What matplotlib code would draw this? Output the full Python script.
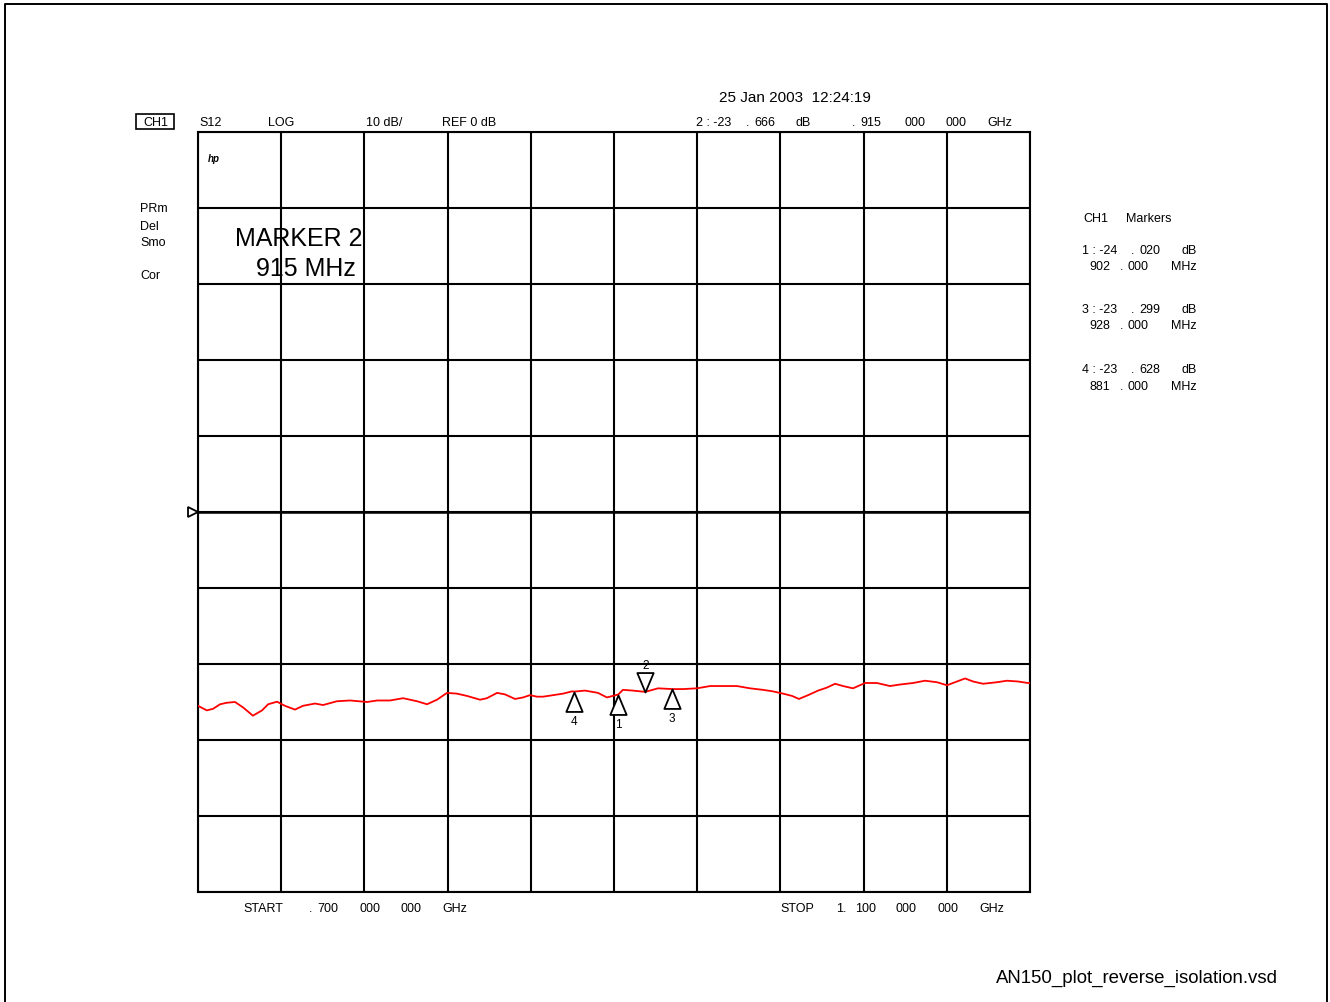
import matplotlib
matplotlib.use("Agg")
import matplotlib.pyplot as plt
from matplotlib.lines import Line2D
from matplotlib.patches import Rectangle
from matplotlib.path import Path
import numpy as np

plt.rcParams["font.family"] = ["Liberation Sans", "DejaVu Sans"]

# S12 sweep, 700 MHz .. 1.1 GHz, LOG 10 dB/div, REF 0 dB
freq_mhz = [700, 704.2, 707.2, 710.6, 713.8, 717.8, 721.6, 726.4, 730.8, 733.7,
            738, 741.8, 746.6, 750.5, 756.3, 760.1, 766.8, 773.1, 781.3, 786.1,
            792.3, 798.6, 805.3, 810.1, 814.9, 819.7, 824.5, 829.3, 835.6, 838.9,
            843.8, 847.6, 852.4, 856.3, 859.6, 863, 865.9, 870.7, 875.5, 879.8,
            881, 886.1, 892.3, 896.6, 902, 904.3, 909.1, 915, 921.2, 928,
            933.2, 939.9, 946.2, 952.4, 959.1, 965.4, 971.6, 976.4, 981.3, 985.6,
            988.9, 993.3, 998.1, 1002.4, 1006.3, 1010.1, 1014.9, 1020.7, 1026.4, 1032.7,
            1037.5, 1043.8, 1049.5, 1055.3, 1060.1, 1064.9, 1068.8, 1072.6, 1077.4, 1084.1,
            1088.9, 1094.2, 1099, 1100]
s12_db = [-25.5, -26.1, -25.9, -25.3, -25.1, -25.0, -25.7, -26.8, -26.1, -25.3,
          -24.96, -25.5, -26.0, -25.5, -25.2, -25.4, -24.9, -24.8, -25.0, -24.8,
          -24.8, -24.5, -24.9, -25.3, -24.7, -23.8, -23.9, -24.2, -24.7, -24.5,
          -23.8, -24.0, -24.6, -24.4, -24.1, -24.3, -24.3, -24.1, -23.9, -23.6,
          -23.628, -23.5, -23.8, -24.4, -24.02, -23.4, -23.5, -23.666, -23.2, -23.299,
          -23.3, -23.2, -22.9, -22.9, -22.9, -23.2, -23.4, -23.6, -23.9, -24.2,
          -24.6, -24.1, -23.5, -23.1, -22.6, -22.9, -23.2, -22.5, -22.5, -22.9,
          -22.7, -22.5, -22.2, -22.4, -22.8, -22.3, -21.9, -22.3, -22.6, -22.4,
          -22.2, -22.3, -22.5, -22.5]

# markers: number, freq (MHz), value (dB)
mk_num = [1, 2, 3, 4]
mk_freq = [902, 915, 928, 881]
mk_db = [-24.020, -23.666, -23.299, -23.628]
active_mk = 2

W, H = 1330, 1003
fig = plt.figure(figsize=(W / 100, H / 100), dpi=100)


def fx(px):
    return px / W


def fy(py):
    return 1 - py / H


def txt(px, py, s, size=9, **kw):
    fig.text(fx(px), fy(py + 1.5), s, fontsize=size, va="center", ha="left", **kw)


def dot_num(px, py, digits):
    # analyzer style ". 123" with a wide gap after the point
    txt(px, py, ".")
    txt(px + 8, py, digits)


# page frame
fig.add_artist(Line2D([fx(5.5), fx(5.5), fx(1327), fx(1327)], [0, fy(4.5), fy(4.5), 0],
                      color="black", lw=1.4, transform=fig.transFigure))

ax = fig.add_axes([fx(198), fy(893), fx(1030) - fx(198), fy(133) - fy(893)])
ax.set_xlim(700, 1100)
ax.set_ylim(-50, 50)
ax.set_xticks(np.arange(700, 1101, 40))
ax.set_yticks(np.arange(-50, 51, 10))
ax.tick_params(length=0, labelbottom=False, labelleft=False)
ax.grid(True, color="black", lw=1.5)
for sp in ax.spines.values():
    sp.set_linewidth(1.5)
ax.axhline(0, color="black", lw=1.8)

ax.plot(freq_mhz, s12_db, color="#ff0000", lw=1.3, zorder=3)

# reference position arrow on the left edge
ax.plot([-0.006], [0], marker=">", ms=7, mfc="white", mec="black", mew=1.3,
        transform=ax.get_yaxis_transform(), clip_on=False)

up_tri = Path([(0, 0), (-0.42, -1), (0.42, -1), (0, 0)], closed=True)
down_tri = Path([(0, 0), (-0.42, 1), (0.42, 1), (0, 0)], closed=True)
for n, f, v in zip(mk_num, mk_freq, mk_db):
    if n == active_mk:
        ax.plot(f, v, marker=down_tri, ms=28, mfc="white", mec="black", mew=1.3, zorder=4)
        ax.annotate(str(n), (f, v), xytext=(0, 19), textcoords="offset points",
                    ha="center", va="center", fontsize=8.5)
    else:
        ax.plot(f, v, marker=up_tri, ms=28, mfc="white", mec="black", mew=1.3, zorder=4)
        ax.annotate(str(n), (f, v), xytext=(0, -21), textcoords="offset points",
                    ha="center", va="center", fontsize=8.5)

ax.text(0.012, 0.966, "hp", transform=ax.transAxes, fontsize=7, fontweight="bold",
        style="italic", va="center")

# header
txt(719, 97, "25 Jan 2003  12:24:19", size=11)
fig.add_artist(Rectangle((fx(136), fy(130)), fx(174) - fx(136), fy(115) - fy(130),
                         fc="white", ec="black", lw=1.2, transform=fig.transFigure))
fig.text(fx(156), fy(123.5), "CH1", fontsize=9, ha="center", va="center")
txt(199, 122, "S12")
txt(268, 122, "LOG")
txt(366, 122, "10 dB/")
txt(442, 122, "REF 0 dB")

i2 = mk_num.index(active_mk)
whole, frac = f"{mk_db[i2]:.3f}".split(".")
txt(696, 122, f"{active_mk} : {whole}")
dot_num(746, 122, frac)
txt(796, 122, "dB")
dot_num(852, 122, f"{mk_freq[i2]:03d}")
txt(904, 122, "000")
txt(945, 122, "000")
txt(987, 122, "GHz")

for py, s in zip([208, 225, 242, 275], ["PRm", "Del", "Smo", "Cor"]):
    txt(140, py, s)

txt(235, 237, f"MARKER {active_mk}", size=18)
txt(256, 268, f"{mk_freq[i2]} MHz", size=18)

# marker table on the right
txt(1083, 217, "CH1")
txt(1126, 217, "Markers")
rows = [(n, f, v) for n, f, v in zip(mk_num, mk_freq, mk_db) if n != active_mk]
for k, (n, f, v) in enumerate(rows):
    y0 = 249 + 60 * k
    whole, frac = f"{v:.3f}".split(".")
    txt(1082, y0, f"{n} : {whole}")
    dot_num(1131, y0, frac)
    txt(1182, y0, "dB")
    txt(1089, y0 + 16, f"{f}")
    dot_num(1120, y0 + 16, "000")
    txt(1171, y0 + 16, "MHz")

# start / stop
txt(243, 908, "START")
dot_num(309, 908, "700")
txt(360, 908, "000")
txt(401, 908, "000")
txt(442, 908, "GHz")
txt(780, 908, "STOP")
txt(836, 908, "1.")
txt(855, 908, "100")
txt(896, 908, "000")
txt(938, 908, "000")
txt(979, 908, "GHz")

txt(996, 977, "AN150_plot_reverse_isolation.vsd", size=13.4)

fig.savefig("out.png", dpi=100)
